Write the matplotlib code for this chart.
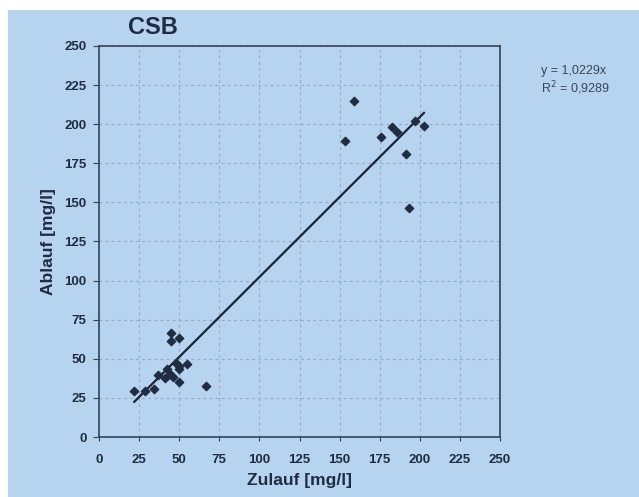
import matplotlib.pyplot as plt
from matplotlib.patches import Rectangle
import numpy as np

plt.rcParams['font.family'] = ['Liberation Sans', 'DejaVu Sans']

# measured points (Zulauf, Ablauf) in mg/l
zulauf = [22, 28.7, 34, 37, 41.4, 42.2, 44, 46.3, 48, 49.9, 49.9, 49.9, 55, 66.7,
          44.7, 44.7, 49.9,
          153.4, 159, 175.6, 182.5, 185.6, 191.4, 193.5, 197, 202.6]
ablauf = [29.4, 29.4, 30.5, 39.6, 37.6, 43.5, 40, 38.6, 47, 45.4, 43.5, 35.4, 46.5, 32.4,
          66.7, 61.4, 63.5,
          189.5, 215, 191.8, 198.2, 195.2, 181, 146.6, 202, 199]
slope = 1.0229
r2_text = "0,9289"
ticks = [0, 25, 50, 75, 100, 125, 150, 175, 200, 225, 250]

bg = '#b6d3ef'
dark = '#1f2c42'

fig = plt.figure(figsize=(6.39, 4.97), dpi=100)
fig.patch.set_facecolor('white')
fig.patches.append(Rectangle((8 / 639, 0), 1, 1 - 10 / 497, transform=fig.transFigure,
                             facecolor=bg, edgecolor='none', zorder=-10))

ax = fig.add_axes([99 / 639, 1 - 437 / 497, 401 / 639, 391 / 497])
ax.set_facecolor(bg)
ax.set_xlim(0, 250)
ax.set_ylim(0, 250)
ax.set_xticks(ticks)
ax.set_yticks(ticks)

ax.grid(True, linestyle=(0, (2.5, 3)), linewidth=0.8, color='#98aac0')
ax.set_axisbelow(True)
for s in ax.spines.values():
    s.set_color('#34445a')
    s.set_linewidth(1.2)

ax.tick_params(axis='y', direction='out', length=4, pad=5, colors='#34445a',
               labelcolor=dark, labelsize=9.5)
ax.tick_params(axis='x', direction='out', length=3, pad=9, colors='#34445a',
               labelcolor=dark, labelsize=9.5)
for lab in ax.get_xticklabels() + ax.get_yticklabels():
    lab.set_fontweight('bold')

# regression line through origin
xl = np.array([min(zulauf), max(zulauf)])
ax.plot(xl, slope * xl, color='#1a2436', linewidth=1.6, zorder=3)
ax.scatter(zulauf, ablauf, marker='D', s=18, color=dark, zorder=4)

ax.set_xlabel('Zulauf [mg/l]', fontsize=12.5, fontweight='bold', color=dark, labelpad=5)
ax.set_ylabel('Ablauf [mg/l]', fontsize=12.5, fontweight='bold', color=dark, labelpad=6)

fig.text(153 / 639, 1 - 27 / 497, 'CSB', fontsize=17, fontweight='bold', color=dark,
         ha='center', va='center')
fig.text(541 / 639, 1 - 71 / 497, 'y = 1,0229x', fontsize=9, color='#3a4658',
         ha='left', va='center')
fig.text(541 / 639, 1 - 88 / 497, 'R$^2$ = ' + r2_text, fontsize=9, color='#3a4658',
         ha='left', va='center')

fig.savefig('out.png', dpi=100, facecolor=fig.get_facecolor())
